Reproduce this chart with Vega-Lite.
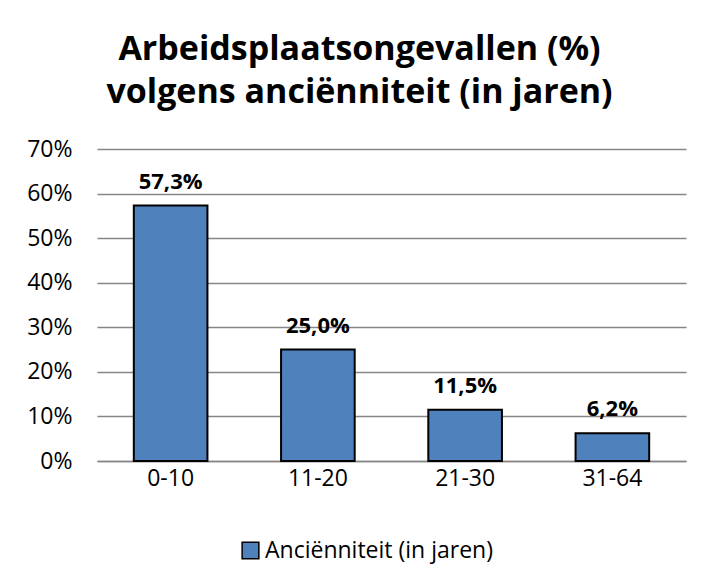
{
  "$schema": "https://vega.github.io/schema/vega-lite/v6.json",
  "width": 589,
  "height": 312,
  "autosize": {"type": "none"},
  "padding": {"left": 97, "top": 149, "right": 17, "bottom": 122},
  "background": "white",
  "config": {
    "font": "Open Sans",
    "view": {"stroke": null},
    "locale": {"number": {"decimal": ",", "thousands": ".", "grouping": [3], "currency": ["€", ""]}}
  },
  "title": {
    "text": ["Arbeidsplaatsongevallen (%)", "volgens anciënniteit (in jaren)"],
    "fontSize": 34,
    "fontWeight": "bold",
    "color": "black",
    "anchor": "middle",
    "offset": 28,
    "lineHeight": 43,
    "dx": -32,
    "frame": "group"
  },
  "data": {
    "values": [
      {"groep": "0-10", "pct": 0.573, "reeks": "Anciënniteit (in jaren)"},
      {"groep": "11-20", "pct": 0.25, "reeks": "Anciënniteit (in jaren)"},
      {"groep": "21-30", "pct": 0.115, "reeks": "Anciënniteit (in jaren)"},
      {"groep": "31-64", "pct": 0.062, "reeks": "Anciënniteit (in jaren)"}
    ]
  },
  "encoding": {
    "x": {
      "field": "groep", "type": "nominal", "sort": null,
      "scale": {"paddingInner": 0.5, "paddingOuter": 0.25},
      "axis": {"title": null, "labelAngle": 0, "labelFontSize": 23, "labelColor": "black", "ticks": false, "domainColor": "#868686", "domainWidth": 1.5, "labelPadding": 6}
    },
    "y": {
      "field": "pct", "type": "quantitative",
      "scale": {"domain": [0, 0.7], "nice": false},
      "axis": {"title": null, "format": ".0%", "values": [0, 0.1, 0.2, 0.3, 0.4, 0.5, 0.6, 0.7], "labelOverlap": false, "labelFontSize": 23, "labelColor": "black", "ticks": false, "domain": false, "gridColor": "#868686", "gridWidth": 1.5, "labelPadding": 25}
    }
  },
  "layer": [
    {
      "mark": {"type": "bar", "stroke": "black", "strokeWidth": 2},
      "encoding": {
        "color": {
          "field": "reeks", "type": "nominal",
          "scale": {"range": ["#4F81BD"]},
          "legend": {"title": null, "orient": "none", "legendX": 142, "legendY": 390, "direction": "horizontal", "symbolType": "square", "symbolSize": 280, "symbolStrokeColor": "black", "symbolStrokeWidth": 1.5, "labelFontSize": 23, "labelColor": "black", "labelLimit": 0, "labelOffset": 3}
        }
      }
    },
    {
      "mark": {"type": "text", "fontSize": 22, "fontWeight": "bold", "color": "black", "baseline": "bottom", "dy": -12},
      "encoding": {
        "text": {"field": "pct", "type": "quantitative", "format": ".1%"}
      }
    }
  ]
}
